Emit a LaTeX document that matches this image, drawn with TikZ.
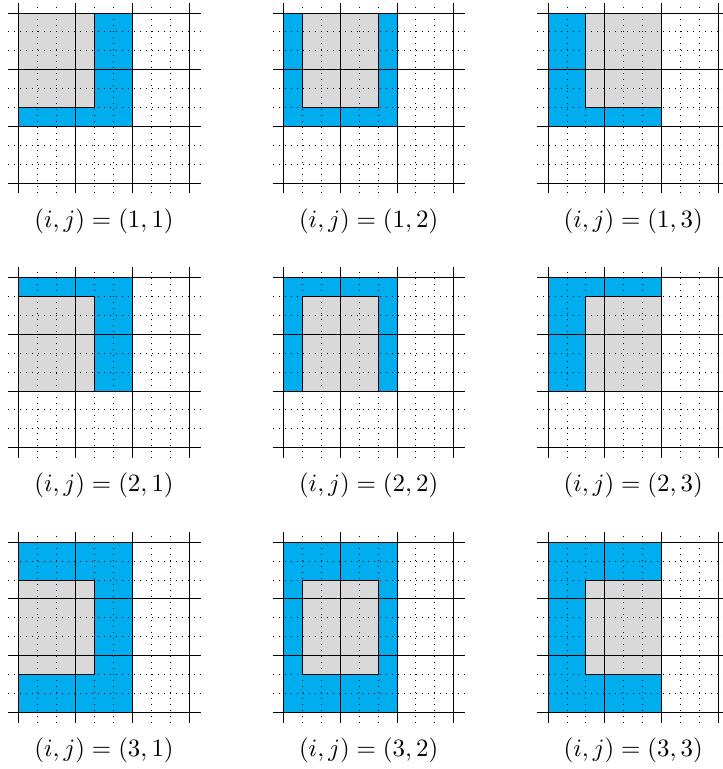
\documentclass[tikz,border=0pt]{standalone}
\usepackage{xcolor}
\usepackage{tikz}
\definecolor{PanBlue}{HTML}{00AEEF}
\definecolor{PanGray}{HTML}{D9D9D9}

\begin{document}
\begin{tikzpicture}[x=0.8cm,y=0.8cm,
  outer/.style={fill=PanBlue,draw=black},
  inner/.style={fill=PanGray,draw=black},
  fine/.style={dotted,step=1/3},
  coarse/.style={step=1}]
\useasboundingbox (-0.335,-13.333) rectangle (12.415,0.23);
% row i=1
\begin{scope}[shift={(0,0)}]
\draw[outer] (0,0) rectangle (2,-2);
\draw[inner] (0,0) rectangle (4/3,-5/3);
\draw[fine] (-0.19,-3.18) grid (3.19,0.18);
\draw[coarse] (-0.19,-3.18) grid (3.19,0.18);
\node (lab11) at (1.5,-3.67) {$(i,j)=(1,1)$};
\end{scope}
\begin{scope}[shift={(4.667,0)}]
\draw[outer] (0,0) rectangle (2,-2);
\draw[inner] (1/3,0) rectangle (5/3,-5/3);
\draw[fine] (-0.19,-3.18) grid (3.19,0.18);
\draw[coarse] (-0.19,-3.18) grid (3.19,0.18);
\node (lab12) at (1.5,-3.67) {$(i,j)=(1,2)$};
\end{scope}
\begin{scope}[shift={(9.333,0)}]
\draw[outer] (0,0) rectangle (2,-2);
\draw[inner] (2/3,0) rectangle (2,-5/3);
\draw[fine] (-0.19,-3.18) grid (3.19,0.18);
\draw[coarse] (-0.19,-3.18) grid (3.19,0.18);
\node (lab13) at (1.5,-3.67) {$(i,j)=(1,3)$};
\end{scope}
% row i=2
\begin{scope}[shift={(0,-4.667)}]
\draw[outer] (0,0) rectangle (2,-2);
\draw[inner] (0,-1/3) rectangle (4/3,-2);
\draw[fine] (-0.19,-3.18) grid (3.19,0.18);
\draw[coarse] (-0.19,-3.18) grid (3.19,0.18);
\node (lab21) at (1.5,-3.67) {$(i,j)=(2,1)$};
\end{scope}
\begin{scope}[shift={(4.667,-4.667)}]
\draw[outer] (0,0) rectangle (2,-2);
\draw[inner] (1/3,-1/3) rectangle (5/3,-2);
\draw[fine] (-0.19,-3.18) grid (3.19,0.18);
\draw[coarse] (-0.19,-3.18) grid (3.19,0.18);
\node (lab22) at (1.5,-3.67) {$(i,j)=(2,2)$};
\end{scope}
\begin{scope}[shift={(9.333,-4.667)}]
\draw[outer] (0,0) rectangle (2,-2);
\draw[inner] (2/3,-1/3) rectangle (2,-2);
\draw[fine] (-0.19,-3.18) grid (3.19,0.18);
\draw[coarse] (-0.19,-3.18) grid (3.19,0.18);
\node (lab23) at (1.5,-3.67) {$(i,j)=(2,3)$};
\end{scope}
% row i=3
\begin{scope}[shift={(0,-9.333)}]
\draw[outer] (0,0) rectangle (2,-3);
\draw[inner] (0,-2/3) rectangle (4/3,-7/3);
\draw[fine] (-0.19,-3.18) grid (3.19,0.18);
\draw[coarse] (-0.19,-3.18) grid (3.19,0.18);
\node (lab31) at (1.5,-3.67) {$(i,j)=(3,1)$};
\end{scope}
\begin{scope}[shift={(4.667,-9.333)}]
\draw[outer] (0,0) rectangle (2,-3);
\draw[inner] (1/3,-2/3) rectangle (5/3,-7/3);
\draw[fine] (-0.19,-3.18) grid (3.19,0.18);
\draw[coarse] (-0.19,-3.18) grid (3.19,0.18);
\node (lab32) at (1.5,-3.67) {$(i,j)=(3,2)$};
\end{scope}
\begin{scope}[shift={(9.333,-9.333)}]
\draw[outer] (0,0) rectangle (2,-3);
\draw[inner] (2/3,-2/3) rectangle (2,-7/3);
\draw[fine] (-0.19,-3.18) grid (3.19,0.18);
\draw[coarse] (-0.19,-3.18) grid (3.19,0.18);
\node (lab33) at (1.5,-3.67) {$(i,j)=(3,3)$};
\end{scope}
\end{tikzpicture}
\end{document}
